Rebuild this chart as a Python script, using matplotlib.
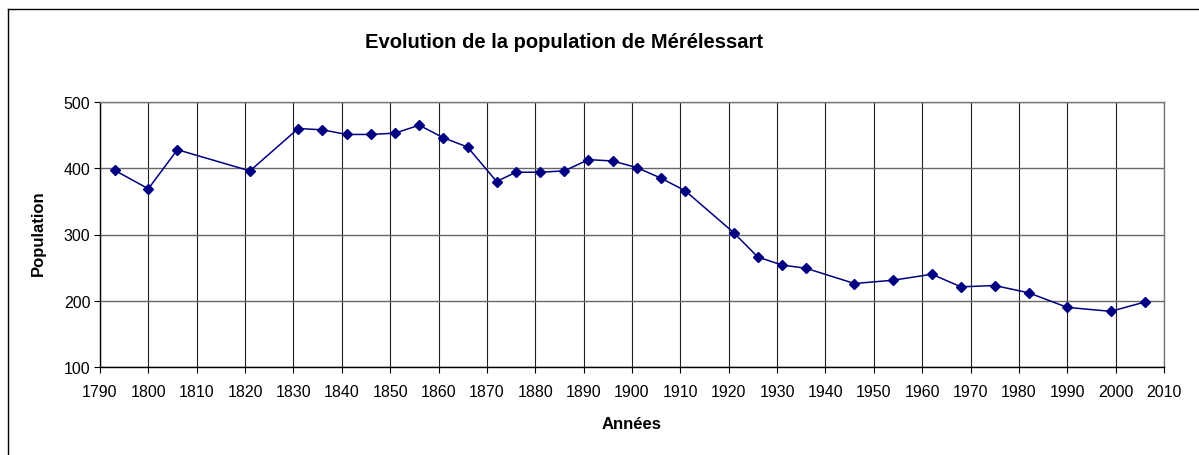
import matplotlib
matplotlib.use("Agg")
import matplotlib.pyplot as plt
from matplotlib.lines import Line2D

years = [1793, 1800, 1806, 1821, 1831, 1836, 1841, 1846, 1851, 1856, 1861, 1866,
         1872, 1876, 1881, 1886, 1891, 1896, 1901, 1906, 1911, 1921, 1926, 1931,
         1936, 1946, 1954, 1962, 1968, 1975, 1982, 1990, 1999, 2006]
population = [397, 369, 428, 396, 460, 458, 451, 451, 453, 465, 446, 432,
              380, 394, 394, 396, 413, 411, 401, 385, 366, 303, 266, 254,
              249, 226, 231, 240, 221, 223, 212, 190, 184, 198]
x_ticks = list(range(1790, 2011, 10))
y_ticks = [100, 200, 300, 400, 500]

plt.rcParams['font.family'] = ['Liberation Sans', 'DejaVu Sans']

fig = plt.figure(figsize=(11.99, 4.56), dpi=100)
W, H = 1199, 456
ax = fig.add_axes([100 / W, 1 - 368 / H, (1164 - 100) / W, (368 - 103) / H])

ax.plot(years, population, color='#000080', lw=1.1, marker='D', markersize=5.5,
        markerfacecolor='#000080', markeredgecolor='#000080', zorder=3)

ax.set_xlim(1790, 2010)
ax.set_ylim(100, 500)
ax.set_xticks(x_ticks)
ax.set_yticks(y_ticks)
for xv in x_ticks:
    ax.axvline(xv, color='#222222', lw=0.8, zorder=1)
for yv in y_ticks:
    ax.axhline(yv, color='#666666', lw=1.0, zorder=1)

ax.tick_params(axis='both', direction='out', length=4, width=0.8, labelsize=11.5,
               colors='black', pad=3)
ax.tick_params(axis='x', pad=8)
for s in ['left', 'bottom']:
    ax.spines[s].set_color('black')
    ax.spines[s].set_linewidth(1.0)
for s in ['top', 'right']:
    ax.spines[s].set_color('#777777')
    ax.spines[s].set_linewidth(1.0)

fig.text(564 / W, 1 - 43 / H, 'Evolution de la population de Mérélessart',
         ha='center', va='center', fontsize=14.5, fontweight='bold')
fig.text(38 / W, 1 - 233 / H, 'Population', ha='center', va='center',
         rotation=90, fontsize=12, fontweight='bold')
fig.text(632 / W, 1 - 425 / H, 'Années', ha='center', va='center',
         fontsize=12, fontweight='bold')

# outer chart frame (left and top edges visible)
fig.add_artist(Line2D([7.5 / W, 7.5 / W], [0, 1 - 9.5 / H], transform=fig.transFigure,
                      color='black', lw=1.0))
fig.add_artist(Line2D([7.5 / W, 1], [1 - 9.5 / H, 1 - 9.5 / H], transform=fig.transFigure,
                      color='black', lw=1.0))

fig.savefig('out.png', dpi=100)
